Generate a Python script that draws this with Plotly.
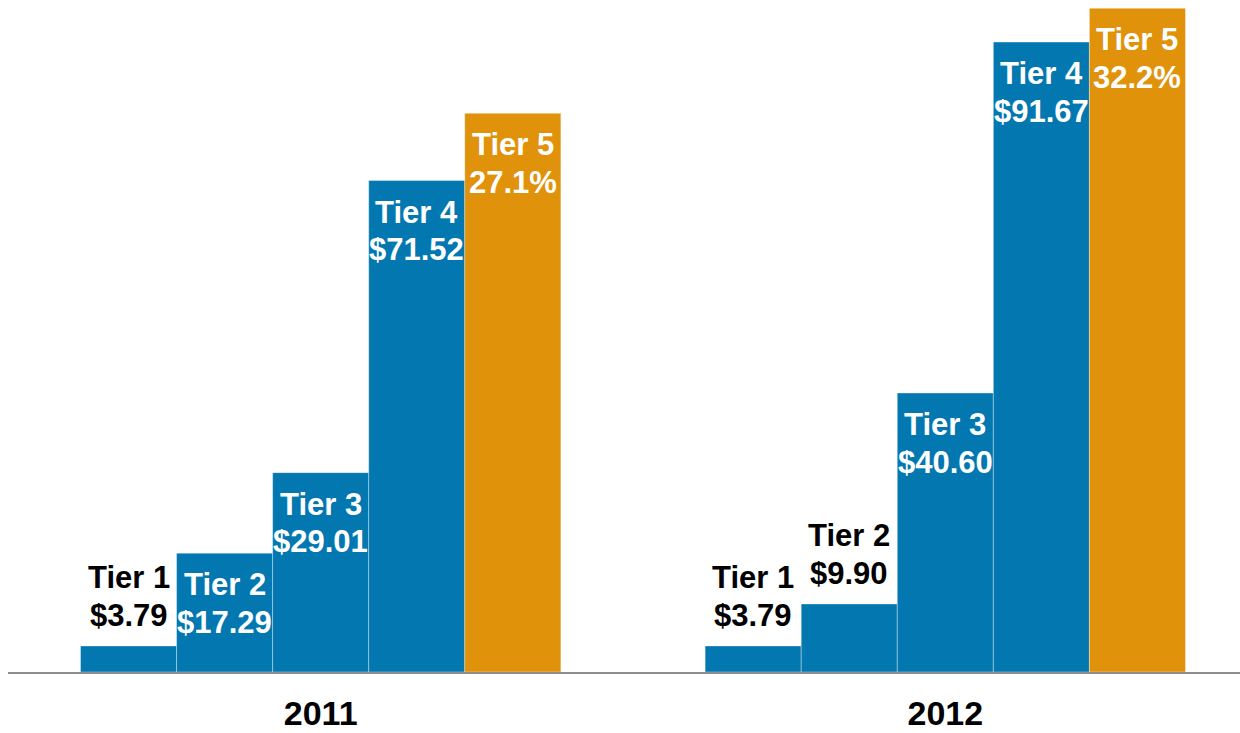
import plotly.graph_objects as go

years = ["2011", "2012"]
tiers = ["Tier 1", "Tier 2", "Tier 3", "Tier 4", "Tier 5"]
# copay values per tier (Tiers 1-4, dollars)
tier1 = [3.79, 3.79]
tier2 = [17.29, 9.90]
tier3 = [29.01, 40.60]
tier4 = [71.52, 91.67]
# Tier 5 is a coinsurance percentage; bar heights as drawn in the chart
tier5_pct = [27.1, 32.2]
tier5_height = [81.3, 96.6]

dollar_series = [tier1, tier2, tier3, tier4]
heights = dollar_series + [tier5_height]
labels = [[f"${v:.2f}" for v in s] for s in dollar_series] + [[f"{v:.1f}%" for v in tier5_pct]]
# which labels sit above the bar (black) instead of inside (white)
outside = [[True, True], [False, True], [False, False], [False, False], [False, False]]

BLUE = "#0377B0"
ORANGE = "#E0920B"
FONT = "Liberation Sans, Arial, sans-serif"
FS = 31

bargap = 0.231
n = len(tiers)
bw = (1 - bargap) / n

fig = go.Figure()
for i, t in enumerate(tiers):
    fig.add_trace(go.Bar(
        x=years, y=heights[i], name=t,
        marker=dict(color=ORANGE if i == 4 else BLUE,
                    line=dict(color="rgba(255,255,255,0.35)", width=1)),
        hoverinfo="skip", showlegend=False,
    ))

annotations = []
for i in range(n):
    for j in range(len(years)):
        xpos = j + (i - (n - 1) / 2) * bw
        y = heights[i][j]
        if outside[i][j]:
            col = "black"
            annotations.append(dict(x=xpos, y=y, xref="x", yref="y", text=f"<b>{tiers[i]}</b>",
                                    showarrow=False, yanchor="bottom", yshift=48.5,
                                    font=dict(family=FONT, size=FS, color=col)))
            annotations.append(dict(x=xpos, y=y, xref="x", yref="y", text=f"<b>{labels[i][j]}</b>",
                                    showarrow=False, yanchor="bottom", yshift=11,
                                    font=dict(family=FONT, size=FS, color=col)))
        else:
            col = "white"
            annotations.append(dict(x=xpos, y=y, xref="x", yref="y", text=f"<b>{tiers[i]}</b>",
                                    showarrow=False, yanchor="top", yshift=-12,
                                    font=dict(family=FONT, size=FS, color=col)))
            annotations.append(dict(x=xpos, y=y, xref="x", yref="y", text=f"<b>{labels[i][j]}</b>",
                                    showarrow=False, yanchor="top", yshift=-49.5,
                                    font=dict(family=FONT, size=FS, color=col)))

fig.update_layout(
    width=1240, height=733,
    margin=dict(l=8, r=0, t=0, b=61, autoexpand=False),
    paper_bgcolor="white", plot_bgcolor="white",
    barmode="group", bargap=bargap, bargroupgap=0,
    annotations=annotations,
    xaxis=dict(type="category", range=[-0.5006, 1.4718], automargin=False,
               showline=True, linecolor="#8E8E8E", linewidth=2,
               showgrid=False, zeroline=False, ticks="",
               tickfont=dict(family=FONT, size=34, color="black"),
               tickvals=years, ticktext=[f"<b>{y}</b>" for y in years],
               ticklabelstandoff=10),
    yaxis=dict(range=[0, 97.8], visible=False, showgrid=False, zeroline=False,
               automargin=False),
)

fig.write_html("out.html")
